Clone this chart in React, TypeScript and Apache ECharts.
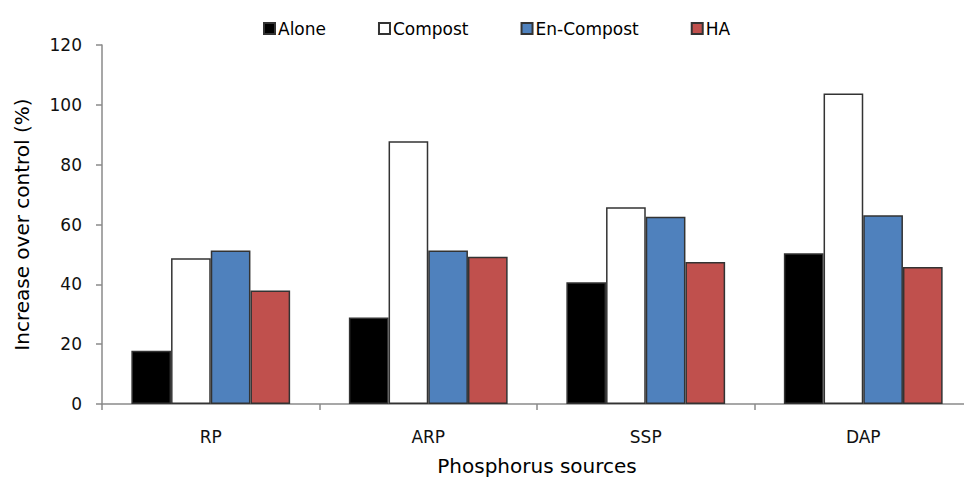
import React, { useEffect, useRef } from "react";
import * as echarts from "echarts";

const categories = ["RP", "ARP", "SSP", "DAP"];
const seriesNames = ["Alone", "Compost", "En-Compost", "HA"];
const alone = [17.8, 28.9, 40.7, 50.4];
const compost = [48.7, 87.8, 65.8, 103.8];
const enCompost = [51.3, 51.3, 62.6, 63.1];
const ha = [37.9, 49.2, 47.5, 45.8];
const yTicks = { min: 0, max: 120, interval: 20 };

const FONT = "'DejaVu Sans', sans-serif";
const colors = ["#000000", "#ffffff", "#4f81bd", "#c0504d"];

export default function App() {
  const ref = useRef<HTMLDivElement>(null);
  useEffect(() => {
    if (!ref.current) return;
    const chart = echarts.init(ref.current, null, { renderer: "svg" });
    const data = [alone, compost, enCompost, ha];
    chart.setOption({
      animation: false,
      textStyle: { fontFamily: FONT },
      legend: {
        left: 258,
        top: 15,
        itemWidth: 11,
        itemHeight: 11,
        itemGap: 52,
        icon: "rect",
        textStyle: { fontFamily: FONT, fontSize: 17, color: "#000", padding: [0, 0, 0, -2] },
        data: seriesNames,
      },
      grid: { left: 102, right: -8, top: 45, bottom: 73, containLabel: false, outerBoundsMode: "none" },
      xAxis: {
        type: "category",
        data: categories,
        name: "Phosphorus sources",
        nameLocation: "middle",
        nameGap: 52,
        nameTextStyle: { fontFamily: FONT, fontSize: 20, color: "#000" },
        axisLine: { lineStyle: { color: "#8a8a8a", width: 1.5 } },
        axisTick: { show: true, length: 6, lineStyle: { color: "#8a8a8a", width: 1.5 } },
        axisLabel: { fontFamily: FONT, fontSize: 17, color: "#111", margin: 24 },
      },
      yAxis: {
        type: "value",
        min: yTicks.min,
        max: yTicks.max,
        interval: yTicks.interval,
        name: "Increase over control (%)",
        nameLocation: "middle",
        nameGap: 70,
        nameTextStyle: { fontFamily: FONT, fontSize: 20, color: "#000" },
        axisLine: { show: true, lineStyle: { color: "#8a8a8a", width: 1.5 } },
        axisTick: { show: true, length: 6, lineStyle: { color: "#8a8a8a", width: 1.5 } },
        splitLine: { show: false },
        axisLabel: { fontFamily: FONT, fontSize: 17, color: "#111", margin: 20 },
      },
      series: seriesNames.map((name, i) => ({
        name,
        type: "bar",
        data: data[i],
        barGap: "0%",
        barCategoryGap: "27%",
        itemStyle: { color: colors[i], borderColor: "#333", borderWidth: 1.5 },
      })),
    });
    return () => chart.dispose();
  }, []);
  return <div ref={ref} style={{ width: 964, height: 477, position: "absolute", left: 0, top: 0 }} />;
}
